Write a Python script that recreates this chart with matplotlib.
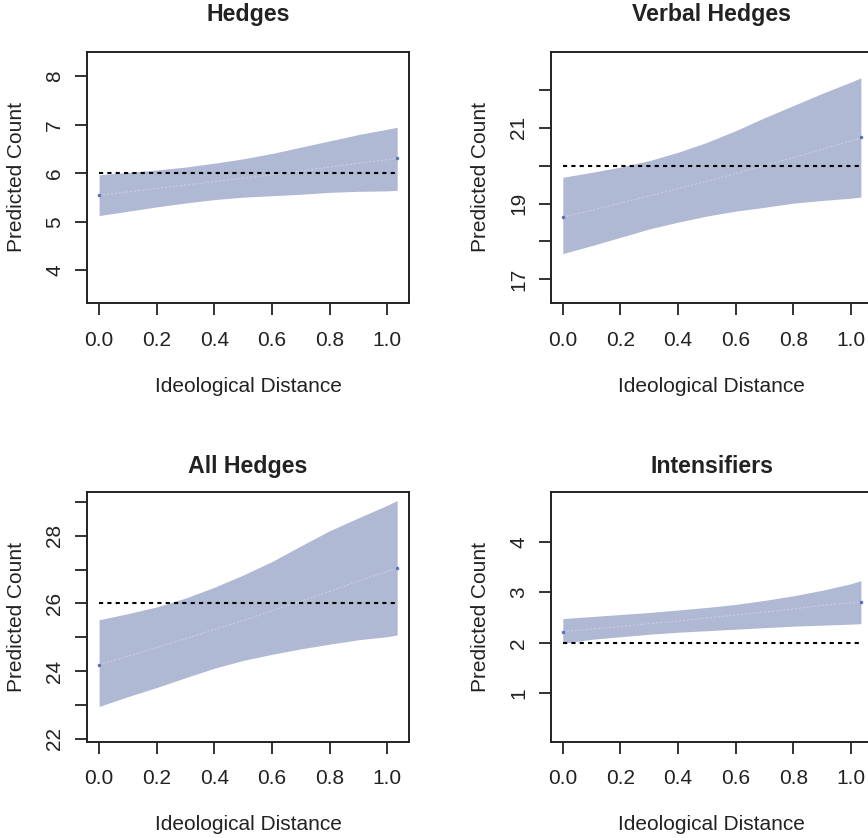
import matplotlib.pyplot as plt

plt.rcParams['font.family'] = ['Liberation Sans', 'DejaVu Sans']

# x positions (ideological distance)
x_vals = [0.0, 0.1, 0.2, 0.3, 0.4, 0.5, 0.6, 0.7, 0.8, 0.9, 1.0, 1.034]

titles = ['Hedges', 'Verbal Hedges', 'All Hedges', 'Intensifiers']

hedges_fit = [5.55, 5.62, 5.69, 5.76, 5.83, 5.90, 5.97, 6.05, 6.13, 6.21, 6.28, 6.31]
hedges_lo = [5.13, 5.22, 5.31, 5.39, 5.46, 5.51, 5.54, 5.57, 5.61, 5.63, 5.64, 5.65]
hedges_hi = [5.97, 6.02, 6.07, 6.13, 6.21, 6.30, 6.41, 6.54, 6.67, 6.80, 6.91, 6.95]

verbal_fit = [18.64, 18.82, 19.01, 19.20, 19.39, 19.59, 19.79, 20.00, 20.21, 20.43, 20.65, 20.74]
verbal_lo = [17.68, 17.89, 18.11, 18.33, 18.51, 18.67, 18.80, 18.90, 19.01, 19.08, 19.14, 19.17]
verbal_hi = [19.69, 19.82, 19.96, 20.13, 20.35, 20.61, 20.92, 21.26, 21.58, 21.90, 22.20, 22.31]

all_fit = [24.19, 24.44, 24.70, 24.96, 25.23, 25.50, 25.78, 26.07, 26.36, 26.66, 26.95, 27.05]
all_lo = [22.96, 23.25, 23.52, 23.81, 24.09, 24.32, 24.50, 24.66, 24.80, 24.93, 25.02, 25.07]
all_hi = [25.52, 25.70, 25.90, 26.16, 26.48, 26.84, 27.24, 27.70, 28.15, 28.53, 28.90, 29.04]

int_fit = [2.22, 2.27, 2.32, 2.38, 2.43, 2.49, 2.55, 2.61, 2.67, 2.74, 2.79, 2.81]
int_lo = [1.99, 2.07, 2.12, 2.17, 2.21, 2.24, 2.27, 2.30, 2.33, 2.35, 2.37, 2.38]
int_hi = [2.48, 2.52, 2.56, 2.60, 2.65, 2.70, 2.76, 2.84, 2.93, 3.04, 3.17, 3.23]

ref_lines = [6, 20, 26, 2]

yticks = [[4, 5, 6, 7, 8], [17, 18, 19, 20, 21, 22],
          [22, 23, 24, 25, 26, 27, 28, 29], [1, 2, 3, 4]]
ytick_labels = [['4', '5', '6', '7', '8'], ['17', '', '19', '', '21', ''],
                ['22', '', '24', '', '26', '', '28', ''], ['1', '2', '3', '4']]
ylims = [(3.33, 8.5), (16.38, 22.99), (21.92, 29.3), (0.044, 4.99)]
xticks = [0.0, 0.2, 0.4, 0.6, 0.8, 1.0]
xtick_labels = ['0.0', '0.2', '0.4', '0.6', '0.8', '1.0']

fits = [hedges_fit, verbal_fit, all_fit, int_fit]
los = [hedges_lo, verbal_lo, all_lo, int_lo]
his = [hedges_hi, verbal_hi, all_hi, int_hi]

W, H = 868, 838
fig = plt.figure(figsize=(W / 100, H / 100), dpi=100)

# box positions in pixels (left, top, width, height) - right column runs off the edge
boxes = [(87, 52, 322, 251), (550.7, 52, 322, 251),
         (87, 491.7, 322, 250), (550.7, 491.7, 322, 250)]
title_y = [15, 15, 466.7, 466.7]

band_col = '#b0b9d3'
txt_col = '#222222'

for i in range(4):
    l, t, w, h = boxes[i]
    ax = fig.add_axes([l / W, 1 - (t + h) / H, w / W, h / H])
    ax.fill_between(x_vals, los[i], his[i], color=band_col, lw=0)
    ax.plot(x_vals, fits[i], color='#c7cde2', lw=0.8, ls=(0, (2, 1.5)))
    ax.plot([x_vals[0], x_vals[-1]], [fits[i][0], fits[i][-1]], ls='none',
            marker='o', ms=1.5, color='#5b6fc2')
    ax.plot([x_vals[0], x_vals[-1]], [ref_lines[i], ref_lines[i]],
            color='black', lw=1.5, ls=(0, (2, 2)))
    ax.set_xlim(-0.042, 1.075)
    ax.set_ylim(*ylims[i])
    ax.set_xticks(xticks)
    ax.set_xticklabels(xtick_labels)
    ax.set_yticks(yticks[i])
    ax.set_yticklabels(ytick_labels[i], rotation=90, va='center')
    ax.tick_params(length=8.3, width=1.3, labelsize=15, colors=txt_col)
    ax.tick_params(axis='x', pad=11.5)
    ax.tick_params(axis='y', pad=8)
    for s in ax.spines.values():
        s.set_linewidth(1.4)
        s.set_color(txt_col)
    ax.set_xlabel('Ideological Distance', fontsize=15, color=txt_col, va='center')
    ax.xaxis.set_label_coords(0.5, -83 / h)
    ax.set_ylabel('Predicted Count', fontsize=15, color=txt_col, va='center')
    ax.yaxis.set_label_coords(-70.5 / w, 0.5)
    fig.text((l + w / 2) / W, 1 - title_y[i] / H, titles[i], fontsize=16.7,
             fontweight='bold', ha='center', va='center', color=txt_col)

plt.savefig('out.png', dpi=100)
